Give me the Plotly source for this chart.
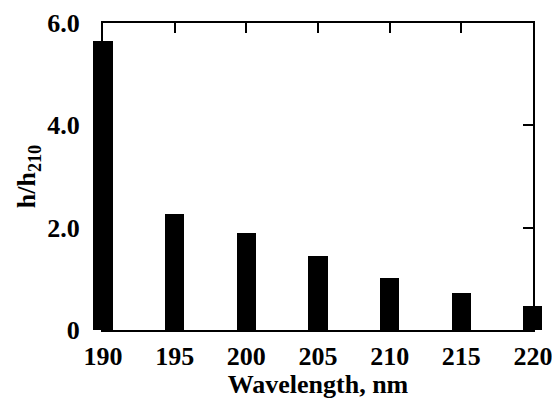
import plotly.graph_objects as go

wavelengths = [190, 195, 200, 205, 210, 215, 220]
ratios = [5.65, 2.26, 1.89, 1.45, 1.01, 0.72, 0.475]
x_ticks = [190, 195, 200, 205, 210, 215, 220]
y_ticks = [0, 2, 4, 6]
y_labels = ["0", "2.0", "4.0", "6.0"]

font = dict(family="Liberation Serif", size=26, color="black")

# pixel geometry: data area 93..542, framed axes 103..533
px_per_unit = 430 / 30
left_ext = 10 / px_per_unit
right_ext = 9 / px_per_unit
plot_w = 552 - 93 - 10

fig = go.Figure()
fig.add_trace(go.Bar(
    x=wavelengths, y=ratios, width=1.33,
    marker=dict(color="black", line=dict(width=0)),
    xaxis="x", yaxis="y",
))
# invisible trace so the framed axis subplot exists
fig.add_trace(go.Scatter(
    x=wavelengths, y=ratios, mode="markers", marker=dict(opacity=0),
    hoverinfo="skip", xaxis="x2", yaxis="y",
))

fig.update_layout(
    width=552, height=399,
    margin=dict(l=93, r=10, t=23, b=69, autoexpand=False),
    paper_bgcolor="white", plot_bgcolor="rgba(0,0,0,0)",
    font=font, showlegend=False, bargap=0,
    xaxis=dict(
        range=[190 - left_ext, 220 + right_ext], domain=[0, 1],
        visible=False, showgrid=False, zeroline=False, automargin=False,
    ),
    xaxis2=dict(
        range=[190, 220], domain=[10 / plot_w, 1 - 9 / plot_w], anchor="y",
        tickvals=x_ticks, ticktext=[f"<b>{v}</b>" for v in x_ticks],
        ticks="inside", ticklen=10, tickwidth=2, tickcolor="black",
        showline=True, linewidth=2, linecolor="black", mirror="ticks",
        showgrid=False, zeroline=False, ticklabelstandoff=2,
        ticklabeloverflow="allow", automargin=False,
        title=dict(text="<b>Wavelength, nm</b>", font=font, standoff=4),
    ),
    yaxis=dict(
        range=[0, 6], anchor="x2",
        tickvals=y_ticks, ticktext=[f"<b>{t}</b>" for t in y_labels],
        ticks="inside", ticklen=10, tickwidth=2, tickcolor="black",
        showline=True, linewidth=2, linecolor="black", mirror="ticks",
        showgrid=False, zeroline=False, ticklabelstandoff=16, automargin=False,
        title=dict(text="<b>h/h<sub>210</sub></b>", font=font, standoff=4),
    ),
)

fig.write_html("out.html")
